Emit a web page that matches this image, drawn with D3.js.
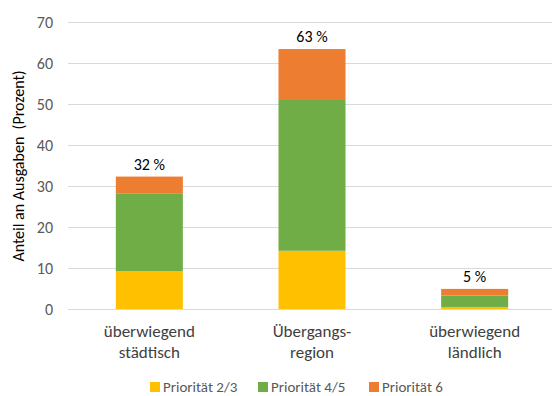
<!DOCTYPE html>
<html>
<head>
<meta charset="utf-8">
<script src="https://cdn.jsdelivr.net/npm/d3@7"></script>
<style>
  body { margin: 0; background: #fff; }
  svg text { font-family: Calibri, Carlito, Lato, "Open Sans", sans-serif; fill: #404040; }
</style>
</head>
<body>
<div id="chart-container"></div>
<script>
// chart data
const categories = [['überwiegend', 'städtisch'], ['Übergangs-', 'region'], ['überwiegend', 'ländlich']];
const seriesNames = ['Priorität 2/3', 'Priorität 4/5', 'Priorität 6'];
const prio23 = [9.2, 14.2, 0.5];
const prio45 = [18.9, 37.0, 2.8];
const prio6 = [4.2, 12.2, 1.6];
const totalLabels = ['32 %', '63 %', '5 %'];
const yTicks = [0, 10, 20, 30, 40, 50, 60, 70];
const colors = ['#FFC000', '#70AD47', '#ED7D31'];

const width = 552, height = 396;
const margin = { top: 22, right: -4, bottom: 87, left: 68 };

const svg = d3.select('#chart-container')
  .append('svg')
  .attr('width', width)
  .attr('height', height);

const rows = categories.map((c, i) => ({ key: i, p23: prio23[i], p45: prio45[i], p6: prio6[i] }));
const stack = d3.stack().keys(['p23', 'p45', 'p6'])(rows);

const x = d3.scaleBand()
  .domain(d3.range(categories.length))
  .range([margin.left, width - margin.right])
  .paddingInner(0.588)
  .paddingOuter(0.294);

const y = d3.scaleLinear()
  .domain([0, 70])
  .range([height - margin.bottom, margin.top]);

// gridlines
svg.append('g')
  .selectAll('line')
  .data(yTicks)
  .enter()
  .append('line')
  .attr('x1', margin.left)
  .attr('x2', width)
  .attr('y1', d => Math.round(y(d)) + 0.5)
  .attr('y2', d => Math.round(y(d)) + 0.5)
  .attr('stroke', '#d9d9d9')
  .attr('stroke-width', 1);

// y axis labels
const yAxis = svg.append('g')
  .attr('transform', `translate(${margin.left}, 0)`)
  .call(d3.axisLeft(y).tickValues(yTicks).tickSize(0).tickPadding(15));
yAxis.select('.domain').remove();
yAxis.selectAll('text')
  .style('font-size', '16px')
  .style('fill', '#595959');

// bars
svg.append('g')
  .selectAll('g')
  .data(stack)
  .enter()
  .append('g')
  .attr('fill', (d, i) => colors[i])
  .selectAll('rect')
  .data(d => d)
  .enter()
  .append('rect')
  .attr('x', d => x(d.data.key))
  .attr('y', d => y(d[1]))
  .attr('width', x.bandwidth())
  .attr('height', d => y(d[0]) - y(d[1]));

// total labels
const topLayer = stack[stack.length - 1];
svg.append('g')
  .selectAll('text')
  .data(topLayer)
  .enter()
  .append('text')
  .attr('x', d => x(d.data.key) + x.bandwidth() / 2)
  .attr('y', d => y(d[1]) - 7)
  .attr('text-anchor', 'middle')
  .style('font-size', '16px')
  .style('fill', '#000')
  .text((d, i) => totalLabels[i]);

// category labels
const cat = svg.append('g')
  .selectAll('text')
  .data(categories)
  .enter()
  .append('text')
  .attr('text-anchor', 'middle')
  .style('font-size', '17px')
  .style('fill', '#404040');
cat.each(function(d, i) {
  const t = d3.select(this);
  d.forEach((line, j) => {
    t.append('tspan')
      .attr('x', x(i) + x.bandwidth() / 2)
      .attr('y', 337 + j * 21)
      .text(line);
  });
});

// y axis title
svg.append('text')
  .attr('transform', 'translate(24, 166) rotate(-90)')
  .attr('text-anchor', 'middle')
  .style('font-size', '16px')
  .style('fill', '#000')
  .text('Anteil an Ausgaben\u00a0 (Prozent)');

// legend
const legendX = [150, 258, 369];
const legend = svg.append('g')
  .selectAll('g')
  .data(seriesNames)
  .enter()
  .append('g')
  .attr('transform', (d, i) => `translate(${legendX[i]}, 382)`);
legend.append('rect')
  .attr('width', 10)
  .attr('height', 10)
  .attr('fill', (d, i) => colors[i]);
legend.append('text')
  .attr('x', 13)
  .attr('y', 10)
  .style('font-size', '15px')
  .style('fill', '#595959')
  .text(d => d);
</script>
</body>
</html>
